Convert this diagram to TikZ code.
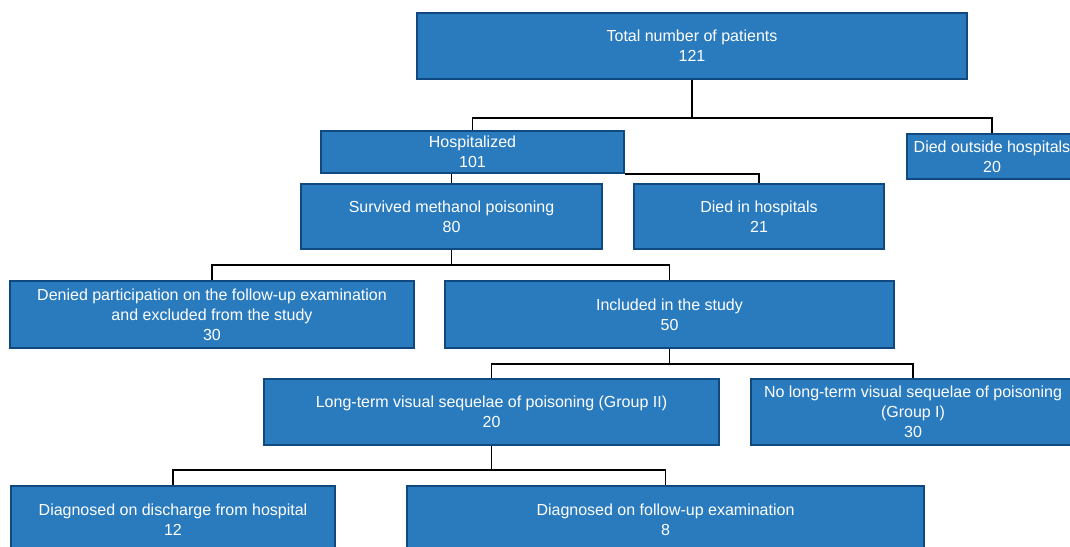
\documentclass[tikz,border=0pt]{standalone}
\usepackage{fontspec}
\setmainfont{Liberation Sans}
\definecolor{boxfill}{HTML}{2A7BBE}
\definecolor{boxedge}{HTML}{10497F}
\begin{document}
\begin{tikzpicture}[x=1pt,y=-1pt,
  flowbox/.style={rectangle, fill=boxfill, draw=boxedge, line width=2pt,
    text=white, align=center, inner sep=0pt, anchor=north west,
    font=\fontsize{16}{20}\selectfont},
  link/.style={draw=black, line width=1.6pt}]
\useasboundingbox (0,0) rectangle (1070,546);
\clip (0,0) rectangle (1070,546);
\fill[white] (0,0) rectangle (1070,546);
% boxes
\node[flowbox, minimum width=550pt, minimum height=66pt] (total) at (416,12) {Total number of patients\\121};
\node[flowbox, minimum width=303pt, minimum height=42pt] (hosp) at (320,130) {Hospitalized\\101};
\node[flowbox, minimum width=170pt, minimum height=45pt] (outside) at (906,133) {Died outside hospitals\\20};
\node[flowbox, minimum width=301pt, minimum height=65pt] (surv) at (300,183) {Survived methanol poisoning\\80};
\node[flowbox, minimum width=250pt, minimum height=65pt] (died) at (633,183) {Died in hospitals\\21};
\node[flowbox, minimum width=404pt, minimum height=67pt] (denied) at (9,280) {Denied participation on the follow-up examination\\and excluded from the study\\30};
\node[flowbox, minimum width=449pt, minimum height=67pt] (incl) at (444,280) {Included in the study\\50};
\node[flowbox, minimum width=455pt, minimum height=66pt] (long) at (263,378) {Long-term visual sequelae of poisoning (Group II)\\20};
\node[flowbox, minimum width=324pt, minimum height=66pt] (nolong) at (750,378) {No long-term visual sequelae of poisoning\\(Group I)\\30};
\node[flowbox, minimum width=324pt, minimum height=68pt] (disc) at (10,485) {Diagnosed on discharge from hospital\\12};
\node[flowbox, minimum width=517pt, minimum height=68pt] (fu) at (406,485) {Diagnosed on follow-up examination\\8};
% connectors
\draw[link] (total.south) -- ++(0,38) coordinate (j1);
\draw[link] (j1) -| (hosp.north);
\draw[link] (j1) -| (outside.north);
\draw[link] (hosp.south east) -| (died.north);
\draw[link] (hosp.south -| surv.north) -- (surv.north);
\draw[link] (surv.south) -- ++(0,15) coordinate (j2);
\draw[link] (j2) -| (denied.north);
\draw[link] (j2) -| (incl.north);
\draw[link] (incl.south) -- ++(0,15) coordinate (j3);
\draw[link] (j3) -| (long.north);
\draw[link] (j3) -| (nolong.north);
\draw[link] (long.south) -- ++(0,24) coordinate (j4);
\draw[link] (j4) -| (disc.north);
\draw[link] (j4) -| (fu.north);
\end{tikzpicture}
\end{document}
